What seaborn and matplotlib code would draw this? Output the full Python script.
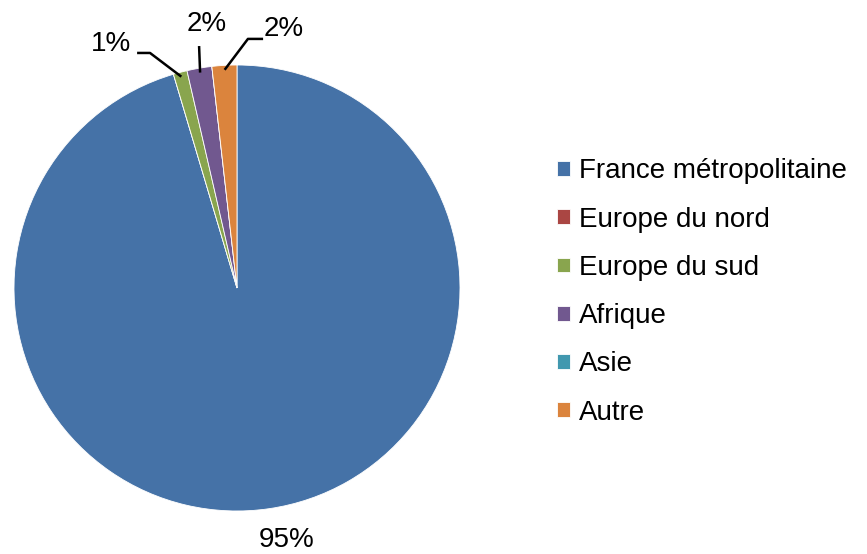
import numpy as np
import matplotlib
matplotlib.use('Agg')
import matplotlib.pyplot as plt
import seaborn as sns

# Data
categories = ['France métropolitaine', 'Europe du nord', 'Europe du sud',
              'Afrique', 'Asie', 'Autre']
values = [95.4, 0.0, 1.0, 1.8, 0.0, 1.8]
colors = ['#4572A7', '#AA4643', '#89A54E', '#71588F', '#4198AF', '#DB843D']

sns.set_theme(style='white')
plt.rcParams['font.family'] = ['Liberation Sans', 'DejaVu Sans']
plt.rcParams['text.color'] = 'black'

fig = plt.figure(figsize=(8.67, 5.54), dpi=100)
ax = fig.add_axes([14 / 867, 43 / 554, 446 / 867, 446 / 554])

wedges, _ = ax.pie(values, colors=colors, startangle=90, counterclock=False,
                   wedgeprops=dict(edgecolor='white', linewidth=0.6))
ax.set_xlim(-1, 1)
ax.set_ylim(-1, 1)
ax.set_aspect('equal')

# Percent labels with leader lines (label position, elbow points)
total = sum(values)
label_layout = {
    2: dict(text=(-0.475, 1.094), ha='right', path=[(-0.448, 1.054), (-0.39, 1.054)]),
    3: dict(text=(-0.135, 1.184), ha='center', path=[(-0.17, 1.085)]),
    5: dict(text=(0.12, 1.161), ha='left', path=[(0.117, 1.117), (0.049, 1.117)]),
}
for i, w in enumerate(wedges):
    if values[i] == 0:
        continue
    pct = '{:.0f}%'.format(round(values[i] / total * 100))
    if i in label_layout:
        lay = label_layout[i]
        theta = np.deg2rad((w.theta1 + w.theta2) / 2)
        anchor = (0.98 * np.cos(theta), 0.98 * np.sin(theta))
        pts = lay['path'] + [anchor]
        ax.plot([p[0] for p in pts], [p[1] for p in pts], color='black',
                lw=1.8, clip_on=False, solid_capstyle='butt')
        ax.text(lay['text'][0], lay['text'][1], pct, ha=lay['ha'], va='center',
                fontsize=20, color='black')
    else:
        ax.text(0.224, -1.13, pct, ha='center', va='center', fontsize=20,
                color='black')

leg = fig.legend(wedges, categories, loc='center left',
                 bbox_to_anchor=(557 / 867, 1 - 292 / 554), frameon=False,
                 fontsize=20, handlelength=0.45, handleheight=0.45,
                 handletextpad=0.35, labelspacing=0.8, borderpad=0,
                 borderaxespad=0)
for t in leg.get_texts():
    t.set_color('black')

fig.savefig('out.png', dpi=100)
